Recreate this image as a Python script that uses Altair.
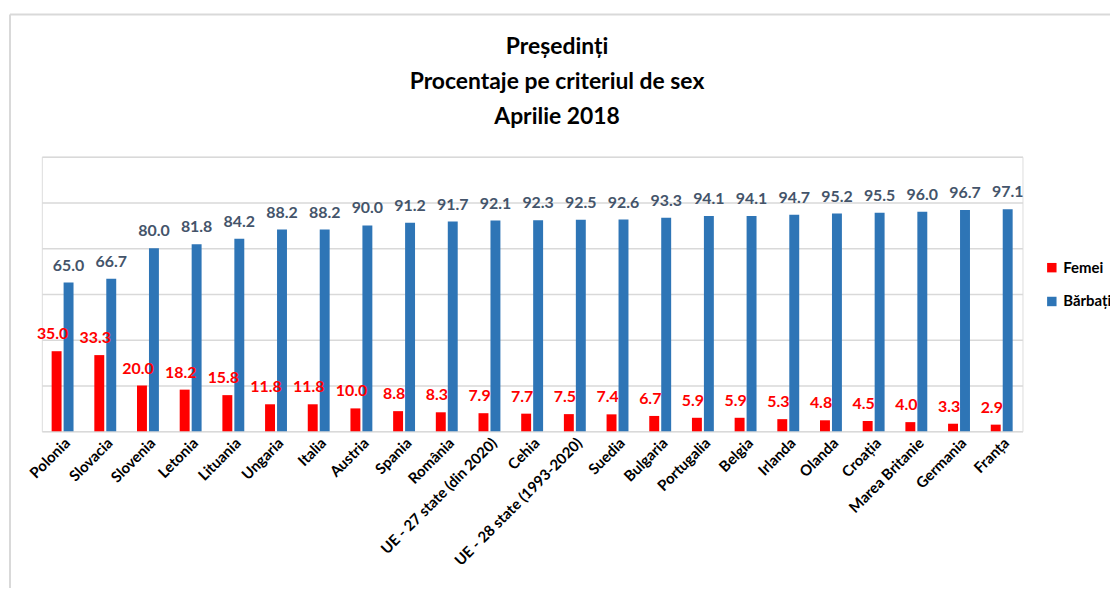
import altair as alt
import pandas as pd

countries = ["Polonia", "Slovacia", "Slovenia", "Letonia", "Lituania", "Ungaria", "Italia",
             "Austria", "Spania", "România", "UE - 27 state (din 2020)", "Cehia",
             "UE - 28 state (1993-2020)", "Suedia", "Bulgaria", "Portugalia", "Belgia",
             "Irlanda", "Olanda", "Croația", "Marea Britanie", "Germania", "Franța"]
femei = [35.0, 33.3, 20.0, 18.2, 15.8, 11.8, 11.8, 10.0, 8.8, 8.3, 7.9, 7.7, 7.5, 7.4,
         6.7, 5.9, 5.9, 5.3, 4.8, 4.5, 4.0, 3.3, 2.9]
barbati = [65.0, 66.7, 80.0, 81.8, 84.2, 88.2, 88.2, 90.0, 91.2, 91.7, 92.1, 92.3, 92.5,
           92.6, 93.3, 94.1, 94.1, 94.7, 95.2, 95.5, 96.0, 96.7, 97.1]
series = ["Femei", "Bărbați"]
grid_values = [0, 20, 40, 60, 80, 100, 120]
title_lines = ["Președinți", "Procentaje pe criteriul de sex", "Aprilie 2018"]

rows = []
for c, f, b in zip(countries, femei, barbati):
    rows.append({"Tara": c, "Sex": "Femei", "Val": f})
    rows.append({"Tara": c, "Sex": "Bărbați", "Val": b})
df = pd.DataFrame(rows)

FONT = "Lato"
RED = "#ff0000"
BLUE = "#2e75b6"

x_enc = alt.X("Tara:N", sort=countries, title=None,
              scale=alt.Scale(paddingInner=0.487, paddingOuter=0.23),
              axis=alt.Axis(labelAngle=-45, labelAlign="right", labelBaseline="top",
                            labelFont=FONT, labelFontSize=15, labelFontWeight="bold",
                            labelColor="#000000", labelPadding=4, domain=False,
                            ticks=False, grid=False, labelOverlap=False, labelLimit=300))
xoff = alt.XOffset("Sex:N", sort=series, scale=alt.Scale(paddingInner=0.17, paddingOuter=0))
y_enc = alt.Y("Val:Q", title=None, scale=alt.Scale(domain=[0, 120], nice=False),
              axis=alt.Axis(values=grid_values, labels=False, ticks=False, domain=False,
                            grid=True, gridColor="#d9d9d9", gridWidth=1.5))

base = alt.Chart(df)

bars = base.mark_bar().encode(
    x=x_enc, xOffset=xoff, y=y_enc,
    color=alt.Color("Sex:N", sort=series,
                    scale=alt.Scale(domain=series, range=[RED, BLUE]),
                    legend=alt.Legend(title=None, orient="none", legendX=1008, legendY=104,
                                      symbolType="square", symbolSize=90,
                                      symbolStrokeWidth=0,
                                      labelFont=FONT, labelFontSize=15,
                                      labelFontWeight="bold", labelColor="#000000",
                                      rowPadding=18)),
)

txt_f = base.transform_filter(alt.datum.Sex == "Femei").mark_text(
    font=FONT, fontSize=16, fontWeight="bold", color=RED, baseline="alphabetic",
    dy=-12, dx=-4
).encode(x=x_enc, xOffset=xoff, y=y_enc, text=alt.Text("Val:Q", format=".1f"))

txt_b = base.transform_filter(alt.datum.Sex == "Bărbați").mark_text(
    font=FONT, fontSize=16, fontWeight="bold", color="#44546a", baseline="alphabetic",
    dy=-12
).encode(x=x_enc, xOffset=xoff, y=y_enc, text=alt.Text("Val:Q", format=".1f"))

frame_left = alt.Chart().mark_rule(color="#d9d9d9", strokeWidth=2).encode(
    x=alt.value(-32), y=alt.value(-143), y2=alt.value(440))
frame_top = alt.Chart().mark_rule(color="#d9d9d9", strokeWidth=2).encode(
    x=alt.value(-32), x2=alt.value(1080), y=alt.value(-143))

title_y = [-110, -75, -40]
titles = [
    alt.Chart().mark_text(font=FONT, fontSize=23, fontWeight="bold", color="#000000",
                          align="center", baseline="middle").encode(
        x=alt.value(518), y=alt.value(ty), text=alt.value(t))
    for t, ty in zip(title_lines, title_y)
]

chart = alt.layer(frame_left, frame_top, *titles, bars, txt_f, txt_b).properties(
    width=986, height=276,
    autosize=alt.AutoSizeParams(type="none"),
    padding={"left": 34, "top": 148, "right": 88, "bottom": 156},
).configure_view(stroke="transparent", strokeWidth=0).configure(background="white")

chart.save("out.html", embed_options={"renderer": "svg", "actions": False})
